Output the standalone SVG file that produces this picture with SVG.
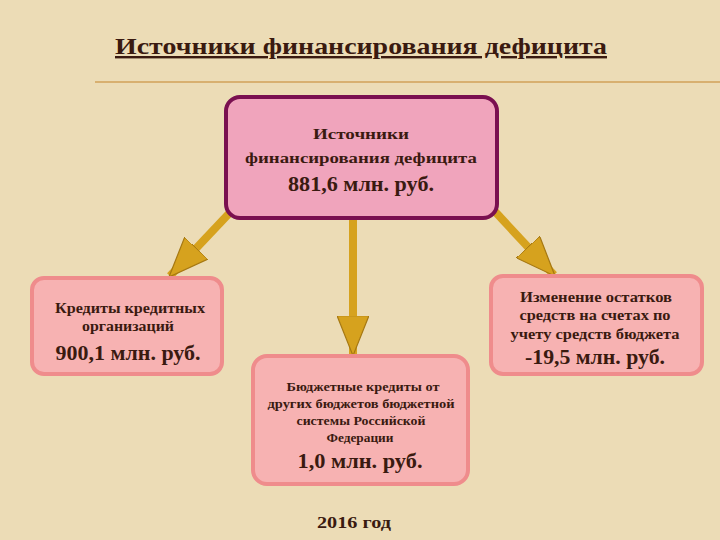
<svg xmlns="http://www.w3.org/2000/svg" width="720" height="540" viewBox="0 0 720 540">
<defs>
<marker id="ah" markerUnits="strokeWidth" markerWidth="5" markerHeight="4" refX="4.8" refY="2" orient="auto" viewBox="0 0 5 4">
<path d="M0,0 L5,2 L0,4 Z" fill="#d6a21e" stroke="#a67812" stroke-width="0.15"/>
</marker>
</defs>
<style>
.t{font-family:"Liberation Serif",serif;font-weight:bold;fill:#3a1a10;text-anchor:middle}
.s{font-size:15px}.b{font-size:22px}
.side{fill:#f7b2b2;stroke:#ef8c8c;stroke-width:4}
.c{stroke:#d6a21e;stroke-width:8;fill:none;marker-end:url(#ah)}
</style>
<rect width="720" height="540" fill="#ecdcb6"/>
<text class="t" x="361" y="54" font-size="24" text-decoration="underline" textLength="492" lengthAdjust="spacingAndGlyphs">Источники финансирования дефицита</text>
<line x1="95" y1="82" x2="720" y2="82" stroke="#d8b070" stroke-width="2"/>
<g id="connectors">
<line class="c" x1="238" y1="204" x2="170" y2="276"/>
<line class="c" x1="353" y1="220" x2="353" y2="354"/>
<line class="c" x1="488" y1="204" x2="554" y2="275"/>
</g>
<g id="top">
<rect x="226" y="97" width="271" height="121" rx="14" fill="#f0a4bc" stroke="#7a1050" stroke-width="4"/>
<text class="t s" x="361" y="139" textLength="96" lengthAdjust="spacingAndGlyphs">Источники</text>
<text class="t s" x="361" y="163" textLength="232" lengthAdjust="spacingAndGlyphs">финансирования дефицита</text>
<text class="t b" x="361" y="191" textLength="146" lengthAdjust="spacingAndGlyphs">881,6 млн. руб.</text>
</g>
<g id="left">
<rect class="side" x="32" y="278" width="190" height="96" rx="12"/>
<text class="t s" x="130" y="313" textLength="150" lengthAdjust="spacingAndGlyphs">Кредиты кредитных</text>
<text class="t s" x="128" y="331" textLength="92" lengthAdjust="spacingAndGlyphs">организаций</text>
<text class="t b" x="128" y="360" textLength="145" lengthAdjust="spacingAndGlyphs">900,1 млн. руб.</text>
</g>
<g id="center">
<rect class="side" x="253" y="356" width="215" height="128" rx="14"/>
<text class="t" x="363" y="391" font-size="12" textLength="153" lengthAdjust="spacingAndGlyphs">Бюджетные кредиты от</text>
<text class="t" x="361" y="408" font-size="12" textLength="187" lengthAdjust="spacingAndGlyphs">других бюджетов бюджетной</text>
<text class="t" x="361" y="425" font-size="12" textLength="129" lengthAdjust="spacingAndGlyphs">системы Российской</text>
<text class="t" x="360" y="442" font-size="12" textLength="67" lengthAdjust="spacingAndGlyphs">Федерации</text>
<text class="t b" x="360" y="468" textLength="125" lengthAdjust="spacingAndGlyphs">1,0 млн. руб.</text>
</g>
<g id="right">
<rect class="side" x="491" y="276" width="211" height="98" rx="12"/>
<text class="t s" x="596" y="302" textLength="152" lengthAdjust="spacingAndGlyphs">Изменение остатков</text>
<text class="t s" x="595" y="320" textLength="151" lengthAdjust="spacingAndGlyphs">средств на счетах по</text>
<text class="t s" x="595" y="339" textLength="169" lengthAdjust="spacingAndGlyphs">учету средств бюджета</text>
<text class="t b" x="595" y="364" textLength="140" lengthAdjust="spacingAndGlyphs">-19,5 млн. руб.</text>
</g>
<text class="t" x="354" y="528" font-size="17" textLength="74" lengthAdjust="spacingAndGlyphs">2016 год</text>
</svg>
